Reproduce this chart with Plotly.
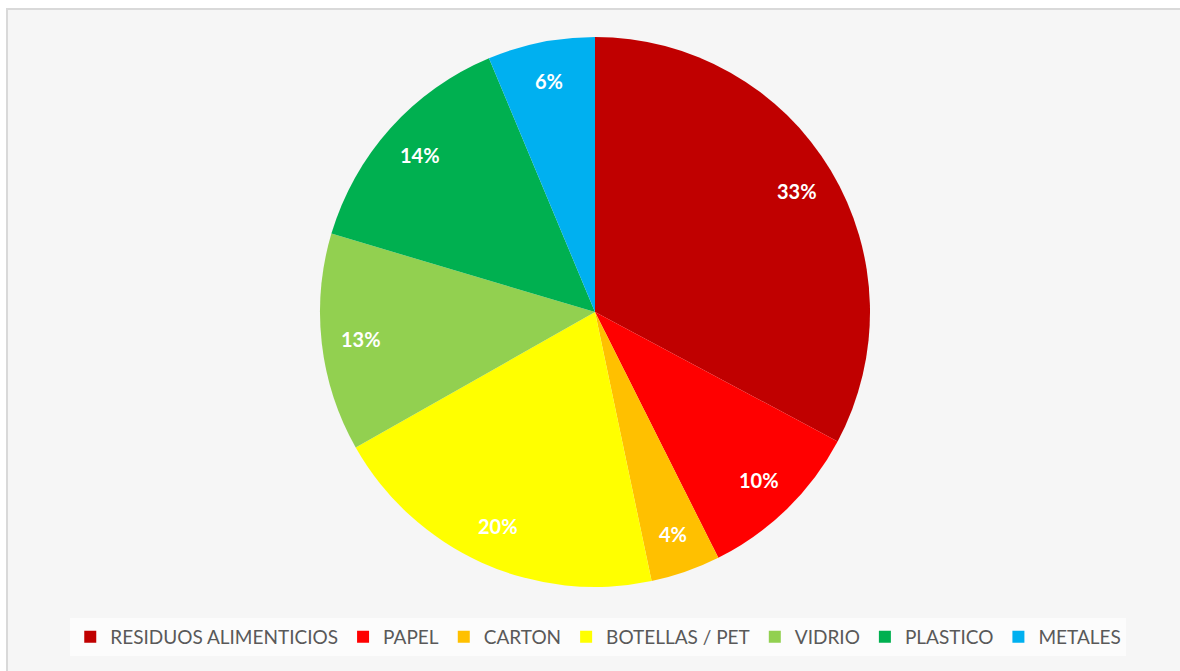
import math
import plotly.graph_objects as go

categories = ["RESIDUOS ALIMENTICIOS", "PAPEL", "CARTON", "BOTELLAS / PET", "VIDRIO", "PLASTICO", "METALES"]
values = [32.8, 9.8, 4.1, 20.1, 12.8, 14.1, 6.3]
colors = ["#C00000", "#FF0000", "#FFC000", "#FFFF00", "#92D050", "#00B050", "#00B0F0"]

W, H = 1180, 671
cx, cy, R = 595, 312, 275

fig = go.Figure(go.Pie(
    labels=categories,
    values=values,
    sort=False,
    direction="clockwise",
    rotation=0,
    marker=dict(colors=colors, line=dict(width=0)),
    textinfo="none",
    domain=dict(x=[(cx - R) / W, (cx + R) / W], y=[1 - (cy + R) / H, 1 - (cy - R) / H]),
    hoverinfo="label+percent",
))

# percentage labels placed at the mid-angle of each slice
total = sum(values)
annotations = []
cum = 0.0
for v in values:
    mid = (cum + v / 2) / total * 2 * math.pi
    cum += v
    r = 0.855 * R
    px = cx + r * math.sin(mid)
    py = cy - r * math.cos(mid)
    annotations.append(dict(
        x=px / W, y=1 - py / H, xref="paper", yref="paper",
        text=f"{round(v / total * 100)}%", showarrow=False,
        font=dict(family="Lato", size=20, color="white", weight="bold"),
        xanchor="center", yanchor="middle",
    ))

fig.update_layout(
    width=W, height=H,
    margin=dict(l=0, r=0, t=0, b=0),
    paper_bgcolor="#ffffff",
    plot_bgcolor="#ffffff",
    showlegend=True,
    legend=dict(
        orientation="h",
        x=0.507, xanchor="center",
        y=1 - 637 / H, yanchor="middle",
        font=dict(family="Lato", size=19, color="#595959"),
        bgcolor="#fcfcfc",
        itemwidth=30,
        traceorder="normal",
    ),
    annotations=annotations,
    shapes=[
        dict(type="rect", xref="paper", yref="paper",
             x0=7 / W, x1=1.01, y0=-0.01, y1=1 - 9 / H,
             line=dict(color="#d9d9d9", width=2), fillcolor="#f6f6f6", layer="below"),
    ],
)

fig.write_html("out.html")
